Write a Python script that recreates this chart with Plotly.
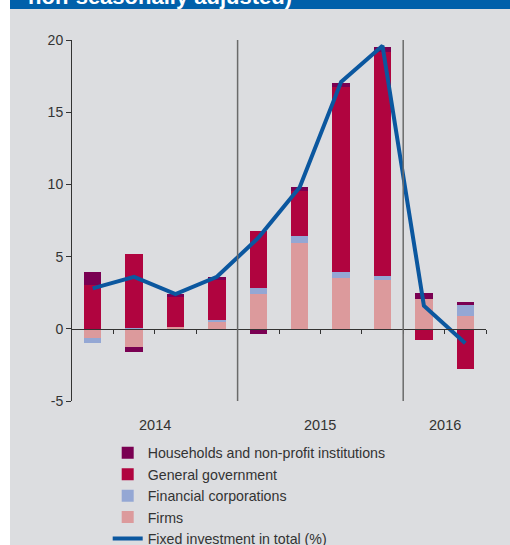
import plotly.graph_objects as go

# Quarterly contributions to fixed investment growth (percentage points)
quarters = ["2014 Q1", "2014 Q2", "2014 Q3", "2014 Q4",
            "2015 Q1", "2015 Q2", "2015 Q3", "2015 Q4",
            "2016 Q1", "2016 Q2"]
years = ["2014", "2015", "2016"]
quarters_per_year = [4, 4, 2]

households = [0.95, -0.35, 0.2, 0.2, -0.35, 0.3, 0.3, 0.35, 0.45, 0.2]
general_government = [3.0, 5.15, 2.1, 2.8, 4.0, 3.1, 12.8, 15.55, -0.8, -2.75]
financial_corporations = [-0.35, 0.05, 0.0, 0.15, 0.4, 0.5, 0.45, 0.25, 0.0, 0.75]
firms = [-0.65, -1.25, 0.1, 0.45, 2.4, 5.95, 3.5, 3.4, 2.05, 0.9]
fixed_investment_total = [2.8, 3.6, 2.4, 3.6, 6.3, 9.8, 17.1, 19.6, 1.6, -1.0]

y_ticks = [-5, 0, 5, 10, 15, 20]
y_tick_labels = ["-5", "0", "5", "10", "15", "20"]

# Figure geometry (pixels)
W, H = 510, 545
ML, MR, MT, MB = 72, 24, 40, 144
PW, PH = W - ML - MR, H - MT - MB


def px_x(p):
    return (p - ML) / PW


def px_y(p):
    return (H - MB - p) / PH


BG = "#dcdde0"
TEXT = "#333333"
FONT = "Liberation Sans"

x = list(range(len(quarters)))

fig = go.Figure()
series = [
    ("Firms", firms, "#dc9a9c", 4),
    ("Financial corporations", financial_corporations, "#94a7d4", 3),
    ("General government", general_government, "#b0043f", 2),
    ("Households and non-profit institutions", households, "#7a0052", 1),
]
for name, vals, color, rank in series:
    fig.add_trace(go.Bar(
        x=x, y=vals, name=name, width=0.42,
        marker=dict(color=color, line=dict(width=0)),
        legendrank=rank,
    ))

fig.add_trace(go.Scatter(
    x=x, y=fixed_investment_total, mode="lines",
    name="Fixed investment in total (%)",
    line=dict(color="#0b579f", width=4),
    legendrank=5,
))

# Year separators and year labels
shapes = []
annotations = []
start = 0
for i, (yr, n) in enumerate(zip(years, quarters_per_year)):
    center = start + (n - 1) / 2
    annotations.append(dict(
        x=center, y=px_y(425.5), xref="x", yref="paper",
        text=yr, showarrow=False, xanchor="center", yanchor="middle",
        font=dict(family=FONT, size=14.5, color=TEXT),
    ))
    if i < len(years) - 1:
        b = start + n - 0.5
        shapes.append(dict(
            type="line", xref="x", yref="y", x0=b, x1=b, y0=-5, y1=20,
            line=dict(color="#6a6a6a", width=1.5), layer="above",
        ))
    start += n

# Background panel and header band
shapes.insert(0, dict(
    type="rect", xref="paper", yref="paper",
    x0=px_x(0), x1=px_x(10), y0=px_y(H), y1=px_y(0),
    fillcolor="white", line=dict(width=0), layer="below",
))
shapes.insert(1, dict(
    type="rect", xref="paper", yref="paper",
    x0=px_x(10), x1=px_x(W), y0=px_y(9), y1=px_y(0),
    fillcolor="#0060aa", line=dict(width=0), layer="below",
))
annotations.append(dict(
    x=px_x(26), y=px_y(11), xref="paper", yref="paper",
    text="<b>non-seasonally adjusted)</b>", showarrow=False,
    xanchor="left", yanchor="bottom",
    font=dict(family=FONT, size=22, color="white"),
))

fig.update_layout(
    width=W, height=H,
    margin=dict(l=ML, r=MR, t=MT, b=MB, pad=0, autoexpand=False),
    paper_bgcolor=BG, plot_bgcolor="rgba(0,0,0,0)",
    barmode="relative", bargap=0,
    showlegend=True,
    legend=dict(
        x=px_x(107.7), y=px_y(437), xanchor="left", yanchor="top",
        traceorder="normal", bgcolor="rgba(0,0,0,0)",
        font=dict(family=FONT, size=14.2, color=TEXT),
        itemwidth=30,
    ),
    xaxis=dict(
        range=[-0.5, len(quarters) - 0.5],
        anchor="free", position=(0 - y_ticks[0]) / (y_ticks[-1] - y_ticks[0]),
        showline=True, linecolor=TEXT, linewidth=1,
        ticks="outside", ticklen=4, tickcolor=TEXT, tickwidth=1,
        tickvals=[i + 0.5 for i in x], showticklabels=False,
        showgrid=False, zeroline=False,
    ),
    yaxis=dict(
        range=[y_ticks[0], y_ticks[-1]],
        showline=True, linecolor=TEXT, linewidth=1,
        ticks="outside", ticklen=5, tickcolor=TEXT, tickwidth=1,
        tickvals=y_ticks, ticktext=y_tick_labels,
        tickfont=dict(family=FONT, size=14, color=TEXT),
        showgrid=False, zeroline=False,
    ),
    shapes=shapes,
    annotations=annotations,
)

fig.write_html("out.html")
